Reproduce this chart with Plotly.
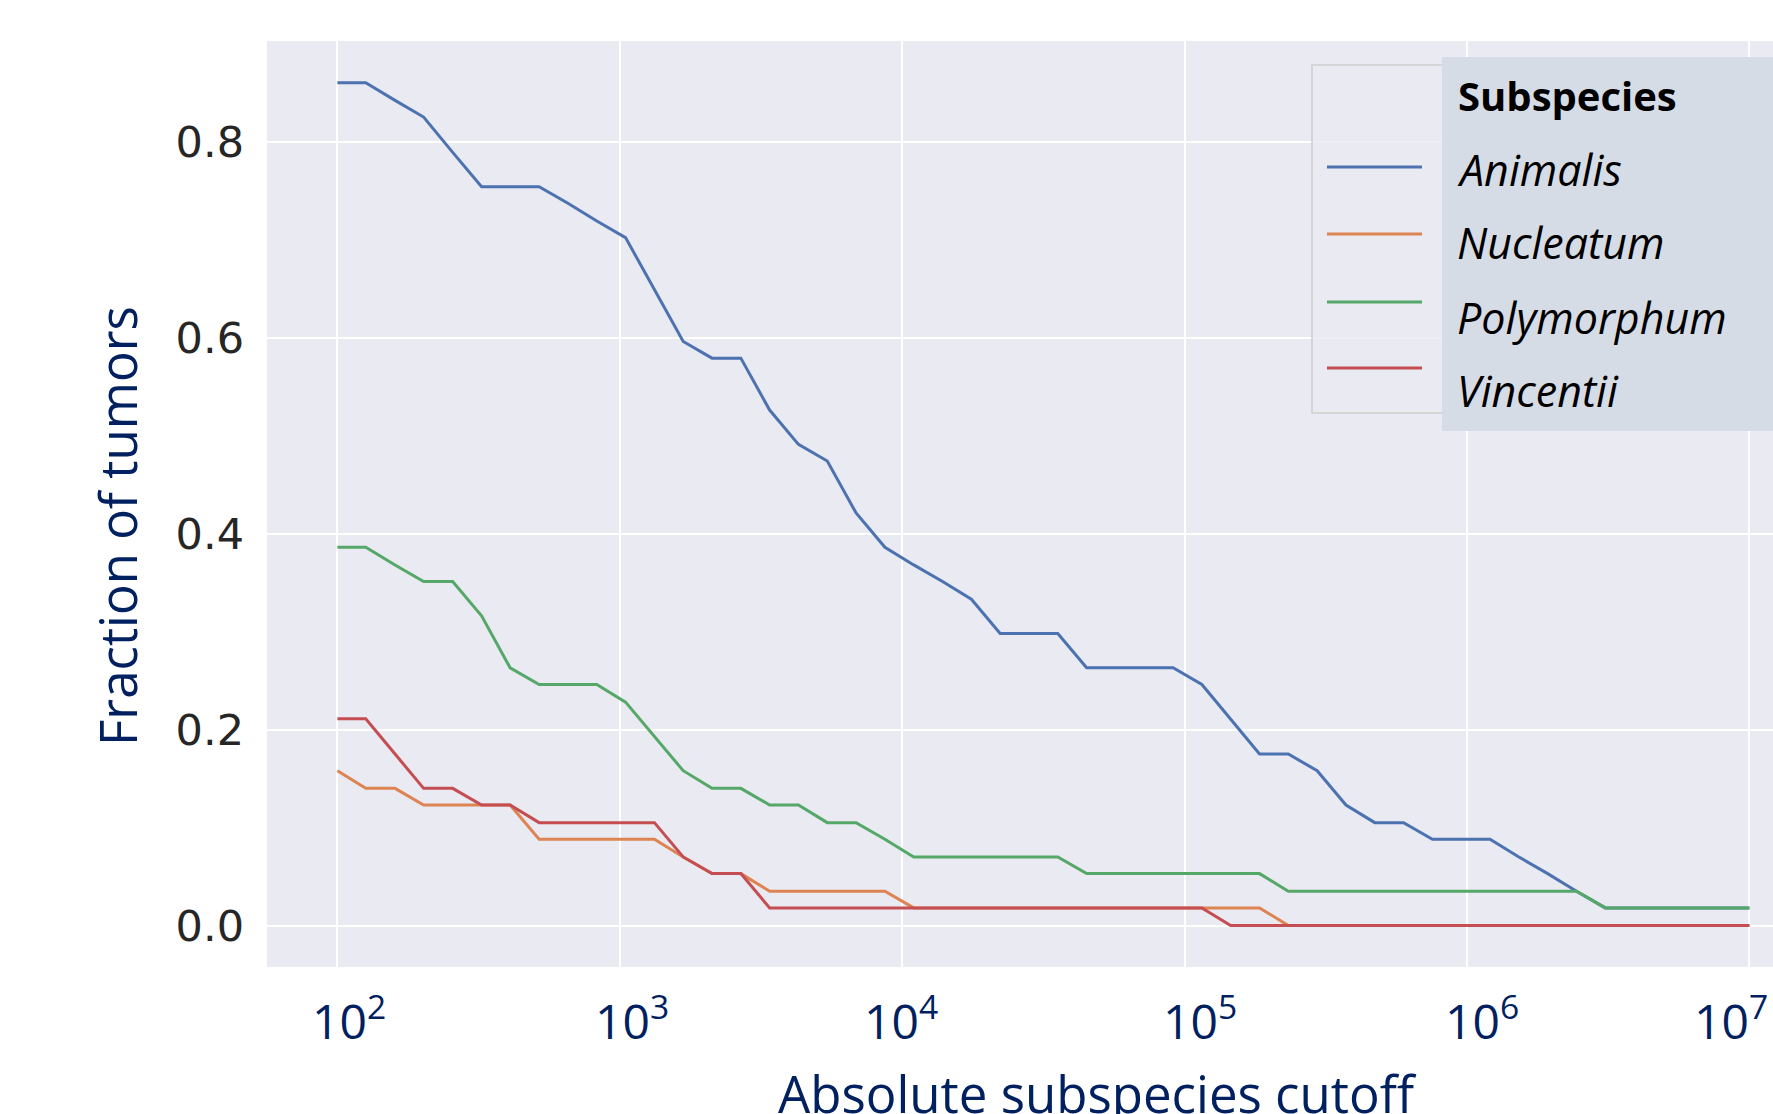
import math
import plotly.graph_objects as go

# ---------------- data ----------------
cutoffs = [100, 126, 160, 202, 256, 324, 409, 518, 655, 829,
           1048, 1326, 1677, 2121, 2683, 3393, 4292, 5429, 6866, 8685,
           10985, 13895, 17575, 22230, 28118, 35565, 44984, 56899, 71969, 91030,
           115140, 145635, 184207, 232995, 294705, 372759, 471487, 596362, 754312, 954095,
           1206793, 1526418, 1930698, 2442053, 3088844, 3906940, 4941713, 6250552, 7906043, 10000000]

animalis = [0.860, 0.860, 0.842, 0.825, 0.789, 0.754, 0.754, 0.754, 0.737, 0.719,
            0.702, 0.649, 0.596, 0.579, 0.579, 0.526, 0.491, 0.474, 0.421, 0.386,
            0.368, 0.351, 0.333, 0.298, 0.298, 0.298, 0.263, 0.263, 0.263, 0.263,
            0.246, 0.211, 0.175, 0.175, 0.158, 0.123, 0.105, 0.105, 0.088, 0.088,
            0.088, 0.070, 0.053, 0.035, 0.018, 0.018, 0.018, 0.018, 0.018, 0.018]

nucleatum = [0.158, 0.140, 0.140, 0.123, 0.123, 0.123, 0.123, 0.088, 0.088, 0.088,
             0.088, 0.088, 0.070, 0.053, 0.053, 0.035, 0.035, 0.035, 0.035, 0.035,
             0.018, 0.018, 0.018, 0.018, 0.018, 0.018, 0.018, 0.018, 0.018, 0.018,
             0.018, 0.018, 0.018, 0.000, 0.000, 0.000, 0.000, 0.000, 0.000, 0.000,
             0.000, 0.000, 0.000, 0.000, 0.000, 0.000, 0.000, 0.000, 0.000, 0.000]

polymorphum = [0.386, 0.386, 0.368, 0.351, 0.351, 0.316, 0.263, 0.246, 0.246, 0.246,
               0.228, 0.193, 0.158, 0.140, 0.140, 0.123, 0.123, 0.105, 0.105, 0.088,
               0.070, 0.070, 0.070, 0.070, 0.070, 0.070, 0.053, 0.053, 0.053, 0.053,
               0.053, 0.053, 0.053, 0.035, 0.035, 0.035, 0.035, 0.035, 0.035, 0.035,
               0.035, 0.035, 0.035, 0.035, 0.018, 0.018, 0.018, 0.018, 0.018, 0.018]

vincentii = [0.211, 0.211, 0.175, 0.140, 0.140, 0.123, 0.123, 0.105, 0.105, 0.105,
             0.105, 0.105, 0.070, 0.053, 0.053, 0.018, 0.018, 0.018, 0.018, 0.018,
             0.018, 0.018, 0.018, 0.018, 0.018, 0.018, 0.018, 0.018, 0.018, 0.018,
             0.018, 0.000, 0.000, 0.000, 0.000, 0.000, 0.000, 0.000, 0.000, 0.000,
             0.000, 0.000, 0.000, 0.000, 0.000, 0.000, 0.000, 0.000, 0.000, 0.000]

series_names = ["Animalis", "Nucleatum", "Polymorphum", "Vincentii"]
series_values = [animalis, nucleatum, polymorphum, vincentii]
series_colors = ["#4C72B0", "#DD8452", "#55A868", "#C44E52"]

x_tickvals = [1e2, 1e3, 1e4, 1e5, 1e6, 1e7]
x_ticktext = ["10<sup>2</sup>", "10<sup>3</sup>", "10<sup>4</sup>",
              "10<sup>5</sup>", "10<sup>6</sup>", "10<sup>7</sup>"]
y_tickvals = [0.0, 0.2, 0.4, 0.6, 0.8]
y_ticktext = ["0.0", "0.2", "0.4", "0.6", "0.8"]

legend_title = "Subspecies"
x_title = "Absolute subspecies cutoff"
y_title = "Fraction of tumors"

# ---------------- layout geometry (pixels) ----------------
FW, FH = 1773, 1114
L, T, B = 267, 41, 967
W = FW - L
H = B - T
NAVY = "#002060"
# hand-placed tick labels in the original are slightly offset from their ticks
x_label_shift = [12, 12, -1, 15, 15, -18]


def px_x(p):
    return (p - L) / W


def px_y(p):
    return (B - p) / H


fig = go.Figure()
for name, vals, col in zip(series_names, series_values, series_colors):
    fig.add_trace(go.Scatter(x=cutoffs, y=vals, mode="lines", name=name,
                             line=dict(color=col, width=3), showlegend=False))

shapes = []
# legend frame (matplotlib style)
shapes.append(dict(type="rect", xref="paper", yref="paper",
                   x0=px_x(1312), x1=px_x(1700), y0=px_y(413), y1=px_y(65),
                   fillcolor="rgba(234,234,242,0.8)",
                   line=dict(color="rgba(204,204,204,0.9)", width=1.5), layer="above"))
# overlay box with legend labels
shapes.append(dict(type="rect", xref="paper", yref="paper",
                   x0=px_x(1442), x1=px_x(1790), y0=px_y(431), y1=px_y(57),
                   fillcolor="#D6DCE5", line=dict(width=0), layer="above"))
# legend line samples
sample_y = [167, 234, 302, 368]
for yy, col in zip(sample_y, series_colors):
    shapes.append(dict(type="line", xref="paper", yref="paper",
                       x0=px_x(1327), x1=px_x(1422), y0=px_y(yy), y1=px_y(yy),
                       line=dict(color=col, width=3), layer="above"))

annotations = []
annotations.append(dict(text="<b>" + legend_title + "</b>", xref="paper", yref="paper",
                        x=px_x(1456), y=px_y(96), xanchor="left", yanchor="middle",
                        showarrow=False, font=dict(family="Open Sans", size=40, color="#000000")))
label_y = [169, 243, 317, 390]
for name, yy in zip(series_names, label_y):
    annotations.append(dict(text="<i>" + name + "</i>", xref="paper", yref="paper",
                            x=px_x(1455), y=px_y(yy), xanchor="left", yanchor="middle",
                            showarrow=False, font=dict(family="Open Sans", size=43, color="#000000")))
# x tick labels (placed on the log axis)
for tv, tt, sh in zip(x_tickvals, x_ticktext, x_label_shift):
    annotations.append(dict(text=tt, xref="x", yref="paper", x=math.log10(tv), y=px_y(981),
                            xanchor="center", yanchor="top", xshift=sh, showarrow=False,
                            font=dict(family="Open Sans", size=48, color=NAVY)))
annotations.append(dict(text=x_title, xref="paper", yref="paper",
                        x=px_x(1097), y=px_y(1093), xanchor="center", yanchor="middle",
                        showarrow=False, font=dict(family="Open Sans", size=51, color=NAVY)))
annotations.append(dict(text=y_title, xref="paper", yref="paper", textangle=-90,
                        x=px_x(117), y=px_y(526), xanchor="center", yanchor="middle",
                        showarrow=False, font=dict(family="Open Sans", size=51, color=NAVY)))

fig.update_layout(
    width=FW, height=FH,
    margin=dict(l=L, r=0, t=T, b=FH - B, pad=0),
    paper_bgcolor="white", plot_bgcolor="#EAEAF2",
    shapes=shapes, annotations=annotations,
    xaxis=dict(type="log", range=[1.7507, 7.0836], tickvals=x_tickvals,
               showticklabels=False,
               showgrid=True, gridcolor="white", gridwidth=2, zeroline=False, showline=False,
               ticks="", automargin=False),
    yaxis=dict(range=[-0.0423, 0.9026], tickvals=y_tickvals, ticktext=y_ticktext,
               showgrid=True, gridcolor="white", gridwidth=2, zeroline=False, showline=False,
               ticks="", ticklabelstandoff=22, automargin=False,
               tickfont=dict(family="DejaVu Sans", size=43, color="#262626")),
    showlegend=False,
)

fig.write_html("out.html", config={"displayModeBar": False},
               post_script="document.body.style.margin='0px';document.body.style.overflow='hidden';")
